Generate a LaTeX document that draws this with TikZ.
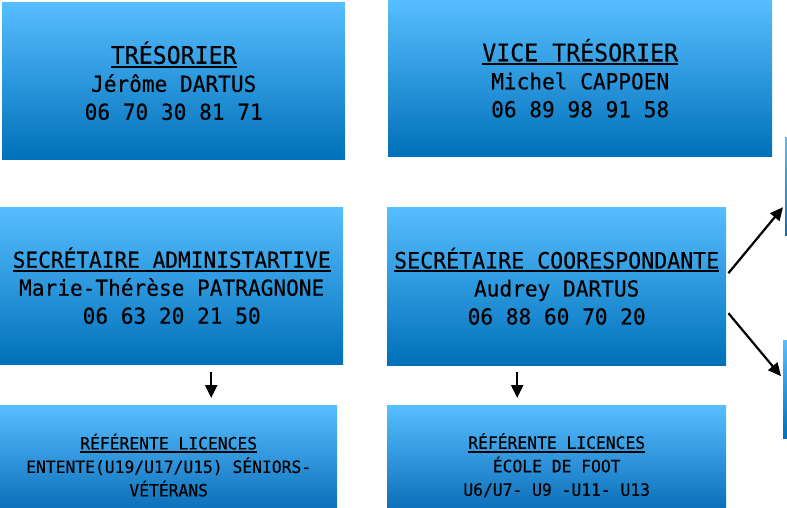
\documentclass[tikz,border=0pt]{standalone}
\usepackage{fontspec}
\usepackage{tikz}
\usetikzlibrary{arrows.meta,calc}
\newfontfamily\monofont[FakeStretch=0.96,FakeBold=0.35]{DejaVu Sans Mono}
\definecolor{bleuhaut}{RGB}{87,190,255}
\definecolor{bleubas}{RGB}{0,112,186}
\definecolor{bleubasfin}{RGB}{0,99,175}
\newcommand\titre[1]{\setbox0=\hbox{#1}\rlap{\vrule width \wd0 height -2pt depth 3.8pt}\box0}

\begin{document}
\begin{tikzpicture}[x=1pt,y=1pt,yscale=-1,
  boite/.style={anchor=north west, inner sep=0pt, top color=bleuhaut, bottom color=bleubas,
    align=center, font=\monofont\fontsize{22}{28}\selectfont},
  petiteboite/.style={boite, bottom color=bleubasfin, font=\monofont\fontsize{17}{23.5}\selectfont},
  fleche/.style={-{Triangle[length=13,width=12]}, line width=2.2}]
\useasboundingbox (0,0) rectangle (787,508);
\clip (0,0) rectangle (787,508);

%Top row
\node[boite, minimum width=343, minimum height=157] (tresorier) at (2,2)
  {{\fontsize{24.2}{28}\selectfont\titre{TRÉSORIER}}\\Jérôme DARTUS\\06 70 30 81 71};
\node[boite, minimum width=384, minimum height=156] (vice) at (388,0)
  {{\fontsize{24.2}{28}\selectfont\titre{VICE TRÉSORIER}}\\Michel CAPPOEN\\06 89 98 91 58};

%Middle row
\node[boite, minimum width=343, minimum height=157] (secadm) at (0,207)
  {\titre{SECRÉTAIRE ADMINISTARTIVE}\\Marie-Thérèse PATRAGNONE\\06 63 20 21 50};
\node[boite, minimum width=339, minimum height=158] (seccor) at (387,207)
  {{\fontsize{22.5}{28}\selectfont\titre{SECRÉTAIRE COORESPONDANTE}}\\Audrey DARTUS\\06 88 60 70 20};

%Bottom row
\node[petiteboite, minimum width=337, minimum height=120] (refent) at (0,405)
  {\titre{RÉFÉRENTE LICENCES}\\ENTENTE(U19/U17/U15) SÉNIORS-\\VÉTÉRANS};
\node[petiteboite, minimum width=339, minimum height=120] (refecole) at (387,405)
  {\titre{RÉFÉRENTE LICENCES}\\ÉCOLE DE FOOT\\U6/U7- U9 -U11- U13};

%Right column
\node[boite, minimum width=100, minimum height=98] (droite1) at (785,137) {};
\node[boite, minimum width=100, minimum height=98] (droite2) at (783,340) {};

%Arrows
\draw[fleche] ($(secadm.south)+(39.5,8)$) -- ($(refent.north)+(42.5,-7)$);
\draw[fleche] ($(seccor.south)+(-39.5,7)$) -- ($(refecole.north)+(-39.5,-7)$);
\draw[fleche] ($(seccor.east)+(2,-13)$) -- ($(droite1.west)+(-2,21)$);
\draw[fleche] ($(seccor.east)+(2,27)$) -- ($(droite2.west)+(-2,-13)$);

\end{tikzpicture}
\end{document}
